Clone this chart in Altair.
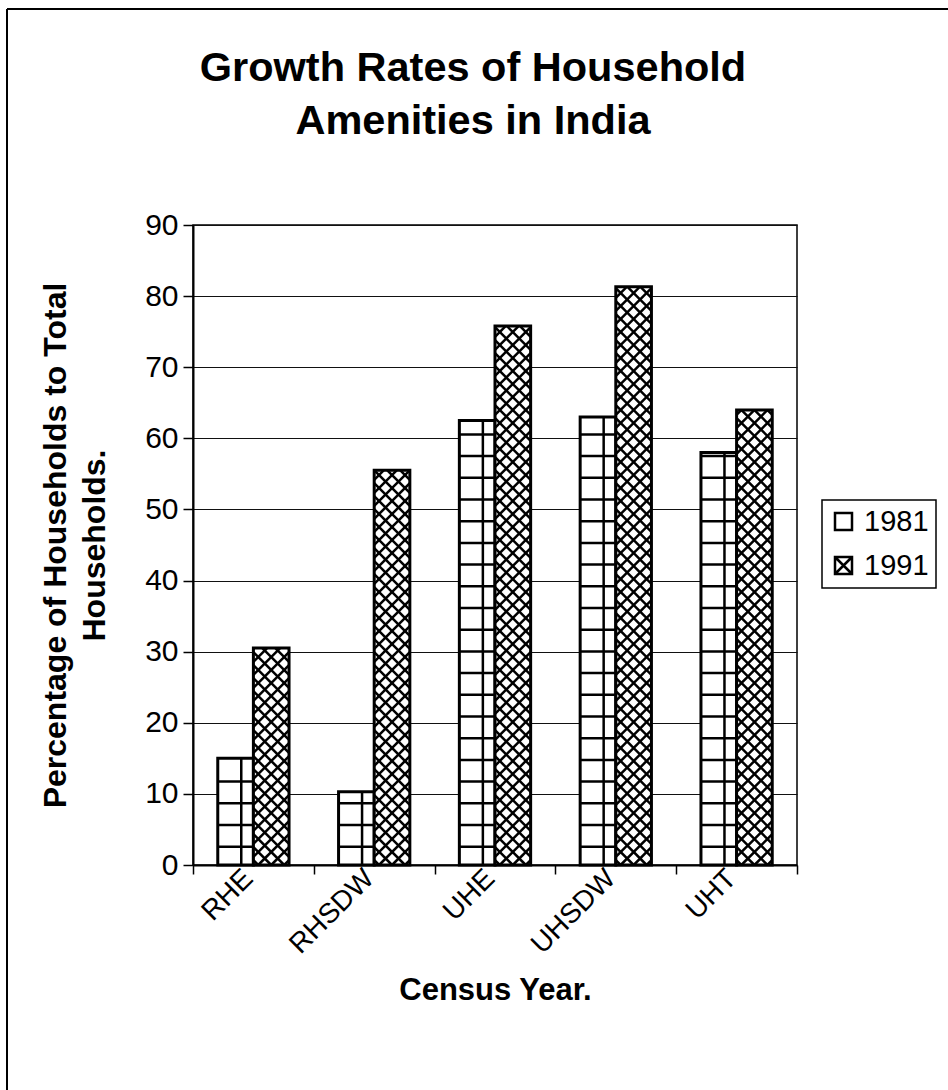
import altair as alt
import pandas as pd

# Share of households with each amenity, by census
categories = ["RHE", "RHSDW", "UHE", "UHSDW", "UHT"]
years = ["1981", "1991"]
share_1981 = [15.0, 10.3, 62.5, 63.0, 58.0]
share_1991 = [30.5, 55.5, 75.8, 81.3, 64.0]
y_ticks = list(range(0, 100, 10))

# Plot-area size in pixels and the scale factors used for the fill patterns
W, H = 604, 640
Y_MAX = 90
N = len(categories)
PX_X = W / N          # pixels per category slot
PX_Y = H / Y_MAX      # pixels per percentage point

GAP = 0.205           # empty share of a slot before the first bar
BW = 0.295            # share of a slot taken by one bar


def grid_pattern(x0, x1, v, cell=21.7, first=18.3, col=23.5):
    """Square-grid fill (1981 bars): horizontal and vertical rules."""
    h = v * PX_Y
    segs = []
    y = first
    while y < h - 3:
        segs.append((x0, y / PX_Y, x1, y / PX_Y))
        y += cell
    xv = x0 + col / PX_X
    segs.append((xv, 0.0, xv, v))
    return segs


def hatch_pattern(x0, x1, v, step=13.0):
    """Diagonal cross-hatch fill (1991 bars), clipped to the bar."""
    w = (x1 - x0) * PX_X
    h = v * PX_Y
    segs = []
    k = -int((w + h) / step) - 2
    while True:
        c = w / 2 + k * step
        if c > w + h + step:
            break
        lo, hi = max(0.0, -c), min(h, w - c)          # rising: x = y + c
        if hi > lo:
            segs.append((c + lo, lo, c + hi, hi))
        lo2, hi2 = max(0.0, c - w), min(h, c)         # falling: x = c - y
        if hi2 > lo2:
            segs.append((c - lo2, lo2, c - hi2, hi2))
        k += 1
    return [(x0 + a / PX_X, b / PX_Y, x0 + cc / PX_X, d / PX_Y) for a, b, cc, d in segs]


bar_rows, pattern_rows = [], []
for i, cat in enumerate(categories):
    for j, (year, series) in enumerate(zip(years, [share_1981, share_1991])):
        v = series[i]
        x0 = i + GAP + j * BW
        x1 = x0 + BW
        bar_rows.append(dict(category=cat, year=year, value=v, x0=x0, x1=x1, xc=(x0 + x1) / 2))
        segs = grid_pattern(x0, x1, v) if year == "1981" else hatch_pattern(x0, x1, v)
        for xa, ya, xb, yb in segs:
            pattern_rows.append(dict(year=year, xa=xa, ya=ya, xb=xb, yb=yb))

bars_df = pd.DataFrame(bar_rows)
pattern_df = pd.DataFrame(pattern_rows)

FONT = "Liberation Sans"
x_scale = alt.Scale(domain=[0, N], nice=False, zero=False)
y_scale = alt.Scale(domain=[0, Y_MAX], nice=False)

label_list = "[" + ",".join(f"'{c}'" for c in categories) + "]"
x_axis = alt.Axis(
    values=list(range(N + 1)),
    labelExpr=f"{label_list}[datum.value] || ''",
    labelOffset=PX_X / 2 - 5,
    labelAngle=315,
    labelAlign="right",
    labelBaseline="middle",
    labelFontSize=28,
    labelPadding=0,
    labelOverlap=False,
    labelFlush=False,
    tickSize=9,
    tickWidth=1.5,
    domainWidth=2,
    grid=False,
    title="Census Year.",
    titleFontSize=31,
    titleFontWeight="bold",
    titleX=W / 2,
    titleY=125,
    titleAlign="center",
    titleBaseline="middle",
)
y_axis = alt.Axis(
    values=y_ticks,
    labelFontSize=30,
    labelPadding=5,
    tickSize=10,
    tickWidth=1.5,
    domainWidth=2,
    grid=True,
    gridColor="#111",
    gridWidth=1.2,
    title=["Percentage of Households to Total", "Households."],
    titleFontSize=32,
    titleFontWeight="bold",
    titleLineHeight=39,
    titleAngle=270,
    titleX=-138,
    titleY=H / 2,
    titleAlign="center",
    titleBaseline="middle",
)

bars = alt.Chart(bars_df).mark_bar(fill="white", stroke="black", strokeWidth=3).encode(
    x=alt.X("x0:Q", scale=x_scale, axis=x_axis),
    x2="x1",
    y=alt.Y("value:Q", scale=y_scale, axis=y_axis),
    y2=alt.datum(0),
)

patterns = alt.Chart(pattern_df).mark_rule(color="black", strokeWidth=2.5, strokeCap="butt").encode(
    x=alt.X("xa:Q", scale=x_scale, axis=x_axis),
    x2="xb",
    y=alt.Y("ya:Q", scale=y_scale, axis=y_axis),
    y2="yb",
)

square = "M-1,-1H1V1H-1Z"
crossed = "M-1,-1H1V1H-1Z M-1,-1L1,1 M1,-1L-1,1"
key = alt.Chart(bars_df).mark_point(opacity=0, filled=False, color="black", strokeWidth=2.5, size=289).encode(
    x=alt.X("xc:Q", scale=x_scale, axis=x_axis),
    y=alt.Y("value:Q", scale=y_scale, axis=y_axis),
    shape=alt.Shape(
        "year:N",
        scale=alt.Scale(domain=years, range=[square, crossed]),
        legend=alt.Legend(
            title=None,
            orient="none",
            legendX=629,
            legendY=275,
            strokeColor="black",
            fillColor="white",
            padding=7,
            labelFontSize=29,
            labelColor="black",
            symbolSize=289,
            symbolStrokeWidth=2.5,
            symbolStrokeColor="black",
            rowPadding=14,
            labelOffset=6,
        ),
    ),
)

# Outer frame of the chart (top and left edges)
frame_src = pd.DataFrame({"edge": [0]})
frame_top = alt.Chart(frame_src).mark_rule(color="black", strokeWidth=2).encode(
    x=alt.value(-186), x2=alt.value(755), y=alt.value(-216)
)
frame_left = alt.Chart(frame_src).mark_rule(color="black", strokeWidth=2).encode(
    x=alt.value(-186), y=alt.value(-216), y2=alt.value(865)
)

chart = (
    alt.layer(bars, patterns, key, frame_top, frame_left)
    .properties(
        width=W,
        height=H,
        padding={"left": 193, "top": 225, "right": 151, "bottom": 225},
        autosize=alt.AutoSizeParams(type="none"),
        title=alt.TitleParams(
            text=["Growth Rates of Household", "Amenities in India"],
            fontSize=41.5,
            fontWeight="bold",
            font=FONT,
            color="black",
            anchor="middle",
            frame="group",
            dx=-22,
            offset=0,
            dy=134,
            lineHeight=53,
        ),
    )
    .configure(font=FONT, background="white")
    .configure_view(stroke="black", strokeWidth=1.5)
    .configure_axis(
        labelFont=FONT,
        titleFont=FONT,
        labelColor="black",
        titleColor="black",
        domainColor="black",
        tickColor="black",
    )
    .configure_legend(labelFont=FONT, strokeWidth=1.5)
)

chart.save("out.html", embed_options={"renderer": "svg", "actions": False})
